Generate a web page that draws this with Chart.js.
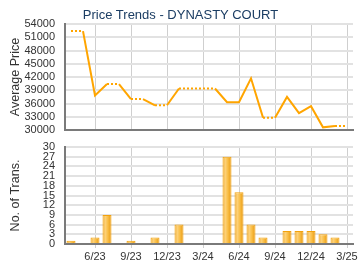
<!DOCTYPE html>
<html><head><meta charset="utf-8">
<script src="https://cdn.jsdelivr.net/npm/chart.js@4/dist/chart.umd.min.js"></script>
<style>
html,body{margin:0;padding:0;background:#fff;width:360px;height:270px;overflow:hidden}
#title{position:absolute;left:0;top:7px;width:361px;text-align:center;font:13px 'Liberation Sans',Arial,sans-serif;line-height:16px;color:#1b3d63}
#c1{position:absolute;left:0;top:0}
#c2{position:absolute;left:0;top:135px}
</style></head><body>
<canvas id="c1" width="360" height="135"></canvas>
<canvas id="c2" width="360" height="135"></canvas>
<div id="title">Price Trends - DYNASTY COURT</div>
<script>
const months = ['4/23','5/23','6/23','7/23','8/23','9/23','10/23','11/23','12/23','1/24','2/24','3/24',
                '4/24','5/24','6/24','7/24','8/24','9/24','10/24','11/24','12/24','1/25','2/25','3/25'];
const avgPrice = [52400,52400,37800,40400,40400,37000,37000,35600,35600,39400,39400,39400,
                  39400,36300,36300,41700,32800,32800,37500,33800,35400,30600,30900,30900];
const transactions = [1,0,2,9,0,1,0,2,0,6,0,0,0,27,16,6,2,0,4,4,4,3,2,0];
const xTickLabels = ['6/23','9/23','12/23','3/24','6/24','9/24','12/24','3/25'];
const priceTicks = {min:30000, max:54000, step:3000};
const transTicks = {min:0, max:30, step:3};

Chart.defaults.font.family = "'Liberation Sans', Arial, sans-serif";
Chart.defaults.font.size = 11;
Chart.defaults.color = '#333';

const hasData = transactions.map(v => v > 0);
const vGrid = ctx => xTickLabels.includes(months[ctx.index]) ? '#cfcfcf' : 'rgba(0,0,0,0)';
const axisBorder = {color:'#7a7a7a', width:2};
const clear = 'rgba(0,0,0,0)';

function yTitle(text){
  return {display:true, text:text, color:'#333', font:{size:12.5}, padding:{top:8,bottom:0}};
}
function yGrid(){
  return {color:'#e2e2e2', lineWidth:2, drawTicks:true, tickLength:10, tickColor:clear};
}
function yTickOpts(step){
  return {stepSize:step, padding:0, autoSkip:false, color:'#333',
          font:{size:11, lineHeight:0.9}, callback:v => String(v)};
}

new Chart(document.getElementById('c1'), {
  type:'line',
  data:{labels:months, datasets:[{
    data:avgPrice,
    borderColor:'#ffa500',
    borderWidth:2,
    pointRadius:0,
    tension:0,
    segment:{borderDash: ctx => hasData[ctx.p1DataIndex] ? undefined : [2,2]}
  }]},
  options:{
    responsive:false, animation:false,
    layout:{padding:{top:24,right:7,bottom:0,left:0}},
    plugins:{legend:{display:false}, tooltip:{enabled:false}},
    scales:{
      x:{type:'category', offset:true,
         grid:{offset:false, color:vGrid, lineWidth:1, drawTicks:false},
         border:axisBorder,
         ticks:{display:false},
         afterFit: s => { s.height = 5; }},
      y:{min:priceTicks.min, max:priceTicks.max,
         grid:yGrid(),
         border:axisBorder,
         ticks:yTickOpts(priceTicks.step),
         title:yTitle('Average Price'),
         afterFit: s => { s.width = 65; }}
    }
  }
});

function barFill(ctx){
  const chart = ctx.chart;
  const xs = chart.scales && chart.scales.x;
  if (!xs || !chart.chartArea) return '#f7b733';
  const cx = xs.getPixelForValue(ctx.dataIndex);
  const g = chart.ctx.createLinearGradient(cx-4.5, 0, cx+4.5, 0);
  g.addColorStop(0, '#eea21c');
  g.addColorStop(0.3, '#fdd27c');
  g.addColorStop(0.6, '#f9be45');
  g.addColorStop(1, '#e8960e');
  return g;
}

new Chart(document.getElementById('c2'), {
  type:'bar',
  data:{labels:months, datasets:[{
    data:transactions,
    backgroundColor:barFill,
    borderColor:'#f2a20d',
    borderWidth:1,
    barPercentage:0.75,
    categoryPercentage:1
  }]},
  options:{
    responsive:false, animation:false,
    layout:{padding:{top:12,right:7,bottom:0,left:0}},
    plugins:{legend:{display:false}, tooltip:{enabled:false}},
    scales:{
      x:{type:'category', offset:true,
         grid:{offset:false, color:vGrid, lineWidth:1, drawTicks:true, tickLength:4},
         border:axisBorder,
         ticks:{autoSkip:false, maxRotation:0, minRotation:0, padding:2, color:'#333',
                callback:(v,i) => xTickLabels.includes(months[i]) ? months[i] : ''},
         afterFit: s => { s.height = 26; }},
      y:{min:transTicks.min, max:transTicks.max,
         grid:yGrid(),
         border:axisBorder,
         ticks:yTickOpts(transTicks.step),
         title:yTitle('No. of Trans.'),
         afterFit: s => { s.width = 65; }}
    }
  }
});
</script>
</body></html>
